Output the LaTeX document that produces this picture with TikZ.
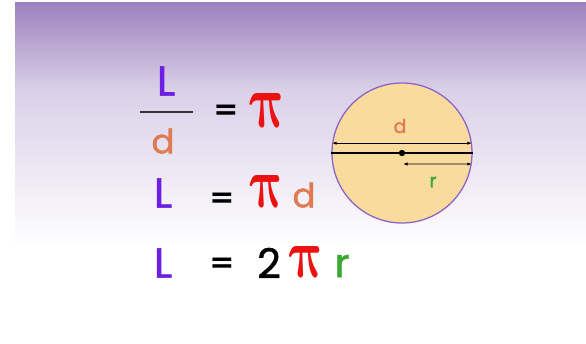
\documentclass[tikz,border=0pt]{standalone}
\usepackage{amsmath}
\usepackage{graphicx}
\usepackage{fontspec}
\setmainfont{Poppins}
\newfontfamily\letterfont{Poppins}[FakeBold=1.3]
\newfontfamily\eqfont{DejaVu Sans}
\usetikzlibrary{positioning,arrows.meta,calc}
\definecolor{lpurple}{RGB}{108,30,226}
\definecolor{dorange}{RGB}{224,122,82}
\definecolor{pired}{RGB}{236,18,18}
\definecolor{rgreen}{RGB}{58,168,52}
\definecolor{ringcol}{RGB}{140,100,200}
\definecolor{discfill}{RGB}{249,219,158}
\definecolor{skytop}{RGB}{157,130,190}
\definecolor{skymid}{RGB}{218,208,232}
\tikzset{
  sym/.style={inner sep=0pt, anchor=center},
  letterL/.style={sym, text=lpurple, font=\letterfont\fontsize{42}{42}\selectfont},
  letterd/.style={sym, text=dorange, font=\letterfont\fontsize{34}{34}\selectfont},
  eqsign/.style={sym, font=\eqfont\bfseries\fontsize{30}{30}\selectfont},
  pisym/.style={sym, text=pired, xslant=-0.22},
  dimarrow/.style={{Latex[length=4.5pt,width=3.2pt]}-{Latex[length=4.5pt,width=3.2pt]}, line width=0.8pt},
  smalllabel/.style={sym, font=\letterfont\fontsize{19}{19}\selectfont}
}
\newcommand{\bigpi}[2]{\resizebox{#1pt}{#2pt}{$\boldsymbol{\pi}$}}

\begin{document}
\begin{tikzpicture}[x=1pt, y=-1pt, >=Latex]
  \useasboundingbox (0,0) rectangle (586,344);
  \fill[white] (0,0) rectangle (586,344);
  \shade[top color=skytop, bottom color=skymid] (15,3) rectangle (586,90);
  \shade[top color=skymid, bottom color=white] (15,90) rectangle (586,248);

  \node[letterL] (Ltop) at (166,81) {L};
  \coordinate (barl) at (140,112);
  \coordinate (barr) at (193,112);
  \draw[line width=2.2pt, black!80] (barl) -- (barr);
  \node[letterd] (dtop) at (163,141) {d};
  \node[eqsign] (eqtop) at (226,112) {=};
  \node[pisym] (pitop) at (268,110) {\bigpi{37}{34}};

  \node[letterL] (Lmid) at (163,193) {L};
  \node[eqsign] (eqmid) at (222,200) {=};
  \node[pisym] (pimid) at (267,191) {\bigpi{35}{32}};
  \node[letterd] (dmid) at (304,195) {d};

  \node[letterL] (Lbot) at (163,263) {L};
  \node[eqsign] (eqbot) at (222,265) {=};
  \node[sym, font=\letterfont\fontsize{41}{41}\selectfont] (two) at (269,263) {2};
  \node[pisym] (pibot) at (307,262) {\bigpi{36}{31}};
  \node[sym, text=rgreen, font=\letterfont\fontsize{40}{40}\selectfont] (rbot) at (342,266) {r};

  \node[circle, draw=ringcol, line width=1.3pt, fill=discfill, minimum size=140pt, inner sep=0pt] (disc) at (402,153) {};
  \draw[line width=1.5pt] (disc.west) -- (disc.east);
  \draw[dimarrow] (disc.172) -- (disc.8);
  \coordinate (rstart) at ($(disc.center)+(1,11)$);
  \draw[dimarrow] (rstart) -- (disc.-9);
  \fill (disc.center) circle (3.2);
  \node[smalllabel, text=dorange] (dlab) at (400,126) {d};
  \node[smalllabel, text=rgreen] (rlab) at (433,182) {r};
\end{tikzpicture}
\end{document}
